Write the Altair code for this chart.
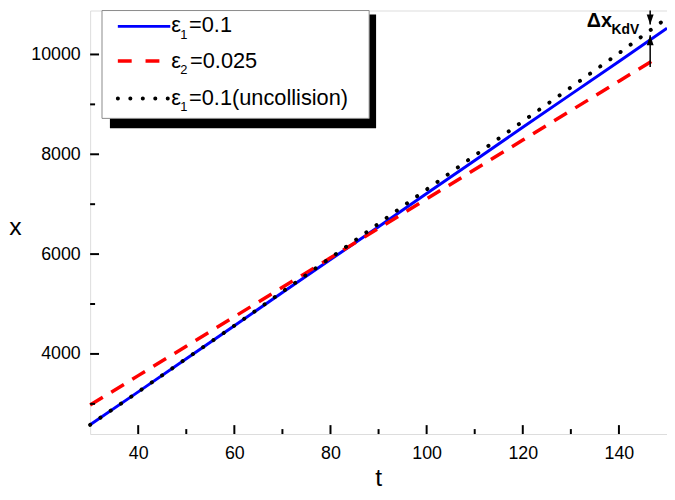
import altair as alt
import pandas as pd

# ---- data ----
t_vals = [30, 40, 50, 60, 70, 80, 90, 100, 110, 120, 130, 140, 150]
blue_vals = [2580, 3240, 3905, 4565, 5230, 5890, 6550, 7215, 7875, 8540, 9200, 9860, 10525]
dotted_vals = [2580, 3240, 3905, 4565, 5245, 5925, 6610, 7295, 7975, 8660, 9340, 10025, 10730]
t_red = [30, 40, 50, 60, 70, 80, 90, 100, 110, 120, 130, 140, 148]
red_vals = [2975, 3565, 4155, 4745, 5335, 5925, 6515, 7105, 7695, 8285, 8875, 9465, 9935]

x_major = [40, 60, 80, 100, 120, 140]
x_minor = [50, 70, 90, 110, 130]
y_major = [4000, 6000, 8000, 10000]
y_minor = [3000, 5000, 7000, 9000]

legend_sub = ["1", "2", "1"]
legend_rest = ["=0.1", "=0.025", "=0.1(uncollision)"]

arrow_t = [146.5]
arrow_up_top = [10880]
arrow_up_tip = [10600]
arrow_low_tip = [10383]
arrow_low_bottom = [9748]

FONT = "Liberation Sans"
W, H = 583, 428

xscale = alt.Scale(domain=[30, 150], nice=False, zero=False)
yscale = alt.Scale(domain=[2395, 10880], nice=False, zero=False)

xaxis = alt.Axis(values=x_major, ticks=False, domain=False, grid=False, format="d",
                 labelPadding=11, labelFontSize=18, labelFont=FONT, labelColor="black",
                 title="t", titleFont=FONT, titleFontSize=25, titleFontWeight="normal",
                 titleColor="black", titleX=291, titleY=52, titleBaseline="alphabetic",
                 titleAlign="center")
yaxis = alt.Axis(values=y_major, ticks=False, domain=False, grid=False, format="d",
                 labelPadding=10, labelFontSize=18, labelFont=FONT, labelColor="black",
                 title="x", titleFont=FONT, titleFontSize=25, titleFontWeight="normal",
                 titleColor="black", titleAngle=0, titleX=-76, titleY=218,
                 titleAlign="center", titleBaseline="middle")

X = alt.X("t:Q", scale=xscale, axis=xaxis)
Y = alt.Y("v:Q", scale=yscale, axis=yaxis)

df_blue = pd.DataFrame({"t": t_vals, "v": blue_vals})
df_dot = pd.DataFrame({"t": t_vals, "v": dotted_vals})
df_red = pd.DataFrame({"t": t_red, "v": red_vals})

blue = alt.Chart(df_blue).mark_line(color="#0000ff", strokeWidth=3).encode(x=X, y=Y)
red = alt.Chart(df_red).mark_line(color="#ff0000", strokeWidth=3.5, strokeDash=[15, 10]).encode(x=X, y=Y)
dot = alt.Chart(df_dot).mark_line(color="black", strokeWidth=4, strokeDash=[0.1, 12.5],
                                  strokeCap="round").encode(x=X, y=Y)

# inward ticks
xt_major = alt.Chart(pd.DataFrame({"t": x_major})).mark_rule(color="black", strokeWidth=2).encode(
    x=X, y=alt.value(H), y2=alt.value(H - 9))
xt_minor = alt.Chart(pd.DataFrame({"t": x_minor})).mark_rule(color="black", strokeWidth=2).encode(
    x=X, y=alt.value(H), y2=alt.value(H - 5))
yt_major = alt.Chart(pd.DataFrame({"v": y_major})).mark_rule(color="black", strokeWidth=2).encode(
    y=Y, x=alt.value(0), x2=alt.value(9))
yt_minor = alt.Chart(pd.DataFrame({"v": y_minor})).mark_rule(color="black", strokeWidth=2).encode(
    y=Y, x=alt.value(0), x2=alt.value(5))

# legend box with shadow
shadow = alt.Chart(pd.DataFrame({"a": [0]})).mark_rect(color="black").encode(
    x=alt.value(20), x2=alt.value(289), y=alt.value(4), y2=alt.value(119))
box = alt.Chart(pd.DataFrame({"a": [0]})).mark_rect(fill="white", stroke="#8a8a8a", strokeWidth=1).encode(
    x=alt.value(12), x2=alt.value(282), y=alt.value(0), y2=alt.value(109))

row_y = [16, 51, 89]
line_styles = [
    dict(color="#0000ff", strokeWidth=3),
    dict(color="#ff0000", strokeWidth=3.5, strokeDash=[14, 14]),
    dict(color="black", strokeWidth=4, strokeDash=[0.1, 12.5], strokeCap="round"),
]
legend_layers = []
for i in range(3):
    ry = row_y[i]
    base_y = ry + 6 + (1 if i == 1 else 0)
    legend_layers.append(
        alt.Chart(pd.DataFrame({"a": [0]})).mark_rule(**line_styles[i]).encode(
            x=alt.value(28), x2=alt.value(81 if i != 1 else 70), y=alt.value(ry)))
    legend_layers.append(
        alt.Chart(pd.DataFrame({"s": ["ε"]})).mark_text(
            font=FONT, fontSize=22, align="left", baseline="alphabetic", color="black").encode(
            text="s:N", x=alt.value(82), y=alt.value(base_y)))
    legend_layers.append(
        alt.Chart(pd.DataFrame({"s": [legend_sub[i]]})).mark_text(
            font=FONT, fontSize=13, align="left", baseline="alphabetic", color="black").encode(
            text="s:N", x=alt.value(91), y=alt.value(ry + 13)))
    legend_layers.append(
        alt.Chart(pd.DataFrame({"s": [legend_rest[i]]})).mark_text(
            font=FONT, fontSize=22, align="left", baseline="alphabetic", color="black").encode(
            text="s:N", x=alt.value(100 if i != 1 else 101), y=alt.value(base_y)))

# Delta x_KdV annotation
df_arrow = pd.DataFrame({"t": arrow_t, "v": arrow_up_top, "v2": arrow_up_tip,
                         "lt": arrow_low_tip, "lb": arrow_low_bottom})
up_shaft = alt.Chart(df_arrow).mark_rule(color="black", strokeWidth=1.5).encode(
    x=X, y=Y, y2="v2:Q")
low_shaft = alt.Chart(df_arrow).mark_rule(color="black", strokeWidth=1.5).encode(
    x=X, y=alt.Y("lt:Q", scale=yscale, axis=yaxis), y2="lb:Q")
head_down = alt.Chart(df_arrow).mark_point(
    shape="M0,0L-0.35,-1L0.35,-1Z", filled=True, color="black", size=400, opacity=1).encode(
    x=X, y=alt.Y("v2:Q", scale=yscale, axis=yaxis))
head_up = alt.Chart(df_arrow).mark_point(
    shape="M0,0L-0.35,1L0.35,1Z", filled=True, color="black", size=400, opacity=1).encode(
    x=X, y=alt.Y("lt:Q", scale=yscale, axis=yaxis))

dx_text = alt.Chart(pd.DataFrame({"s": ["Δx"]})).mark_text(
    font=FONT, fontSize=20, fontWeight="bold", align="left", baseline="alphabetic", color="black").encode(
    text="s:N", x=alt.value(502), y=alt.value(17))
kdv_text = alt.Chart(pd.DataFrame({"s": ["KdV"]})).mark_text(
    font=FONT, fontSize=14, fontWeight="bold", align="left", baseline="alphabetic", color="black").encode(
    text="s:N", x=alt.value(527), y=alt.value(24))

chart = alt.layer(
    blue, red, dot,
    xt_major, xt_minor, yt_major, yt_minor,
    up_shaft, low_shaft, head_down, head_up,
    dx_text, kdv_text,
    shadow, box, *legend_layers,
).properties(
    width=W, height=H,
    autosize=alt.AutoSizeParams(type="none"),
    padding={"left": 83, "top": 0, "right": 0, "bottom": 54},
).configure_view(
    stroke="black", strokeWidth=2
).configure(background="white")

chart.save("out.html", embed_options={"renderer": "svg", "actions": False})
